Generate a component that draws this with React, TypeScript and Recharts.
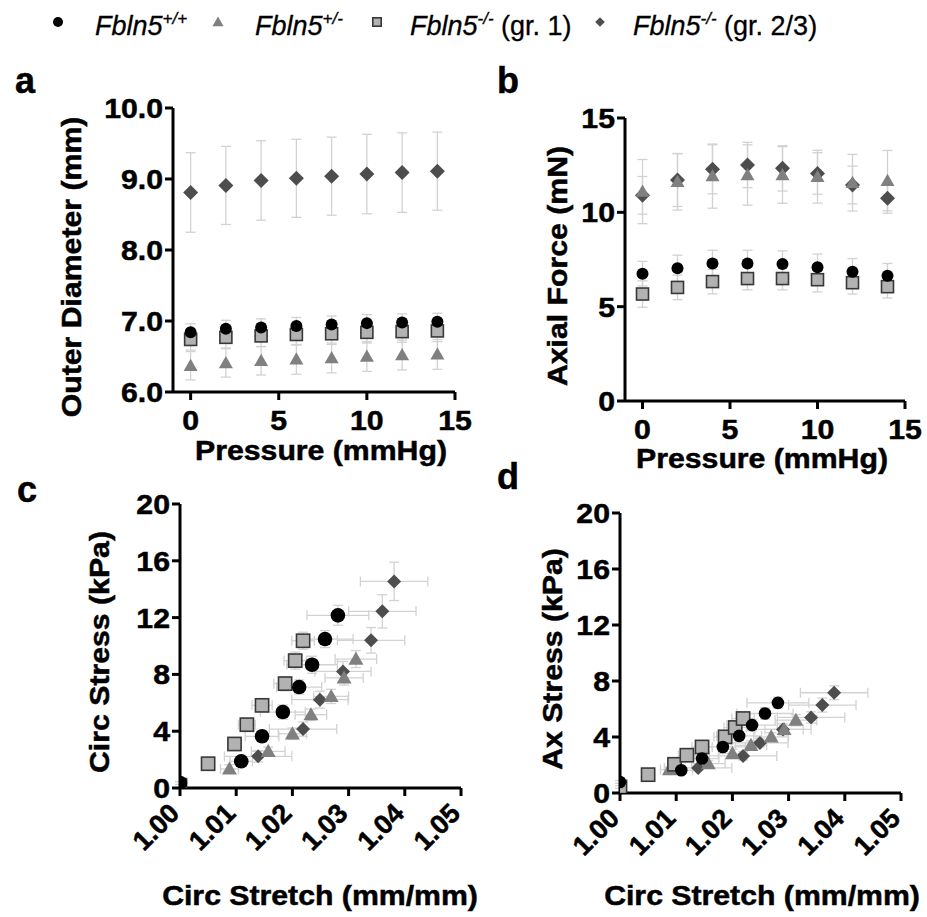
import React from 'react';
import { ScatterChart, Scatter, XAxis, YAxis, ErrorBar } from 'recharts';

// ---------------- data ----------------
const PRESSURE = [0, 2, 4, 6, 8, 10, 12, 14];
const PRESSURE_TICKS = [0, 5, 10, 15];
const OD_TICKS = [6, 7, 8, 9, 10];
const AF_TICKS = [0, 5, 10, 15];
const STRETCH_TICKS = [1.0, 1.01, 1.02, 1.03, 1.04, 1.05];
const STRESS_TICKS = [0, 4, 8, 12, 16, 20];

// a: outer diameter (mm) vs pressure
const OD_WT = [6.84, 6.89, 6.91, 6.93, 6.95, 6.97, 6.98, 6.99];
const OD_WT_SD = [0.12, 0.12, 0.12, 0.12, 0.12, 0.12, 0.12, 0.12];
const OD_HET = [6.37, 6.41, 6.44, 6.46, 6.48, 6.5, 6.52, 6.53];
const OD_HET_SD = [0.2, 0.2, 0.2, 0.21, 0.21, 0.21, 0.21, 0.21];
const OD_KO1 = [6.74, 6.77, 6.79, 6.81, 6.82, 6.84, 6.85, 6.86];
const OD_KO1_SD = [0.15, 0.15, 0.15, 0.15, 0.15, 0.15, 0.15, 0.15];
const OD_KO23 = [8.81, 8.91, 8.98, 9.01, 9.04, 9.07, 9.09, 9.11];
const OD_KO23_SD = [0.56, 0.55, 0.56, 0.55, 0.55, 0.56, 0.56, 0.55];

// b: axial force (mN) vs pressure
const AF_WT = [6.75, 7.03, 7.29, 7.29, 7.26, 7.09, 6.85, 6.64];
const AF_WT_SD = [0.65, 0.7, 0.7, 0.7, 0.7, 0.7, 0.7, 0.65];
const AF_HET = [11.1, 11.62, 11.92, 11.98, 11.98, 11.89, 11.57, 11.68];
const AF_HET_SD = [1.7, 1.5, 1.7, 1.6, 1.5, 1.4, 1.5, 1.6];
const AF_KO1 = [5.67, 6.02, 6.33, 6.49, 6.49, 6.43, 6.27, 6.06];
const AF_KO1_SD = [0.7, 0.65, 0.65, 0.6, 0.6, 0.65, 0.6, 0.6];
const AF_KO23 = [10.9, 11.71, 12.28, 12.51, 12.33, 12.06, 11.45, 10.75];
const AF_KO23_SD = [1.0, 1.4, 1.3, 1.2, 1.2, 1.1, 1.0, 0.8];

// c/d: circumferential stretch (mm/mm), shared by both panels
const STRETCH_WT = [1.0, 1.0109, 1.0146, 1.0183, 1.0212, 1.0235, 1.0258, 1.0281];
const STRETCH_WT_SD = [0, 0.002, 0.003, 0.004, 0.004, 0.0045, 0.005, 0.0055];
const STRETCH_HET = [1.0088, 1.0157, 1.02, 1.0233, 1.0269, 1.0292, 1.0313];
const STRETCH_HET_SD = [0.0016, 0.003, 0.0025, 0.0028, 0.0031, 0.0034, 0.0037];
const STRETCH_KO1 = [1.0, 1.005, 1.0097, 1.0119, 1.0146, 1.0187, 1.0205, 1.0219];
const STRETCH_KO1_SD = [0, 0.001, 0.0012, 0.0015, 0.0018, 0.002, 0.002, 0.002];
const STRETCH_KO23 = [1.0139, 1.0219, 1.0249, 1.029, 1.034, 1.036, 1.0381];
const STRETCH_KO23_SD = [0.006, 0.006, 0.005, 0.005, 0.006, 0.006, 0.006];

// c: circumferential stress (kPa)
const CSTRESS_WT = [0.35, 1.88, 3.64, 5.35, 7.11, 8.68, 10.49, 12.16];
const CSTRESS_WT_SD = [0.1, 0.3, 0.4, 0.5, 0.5, 0.6, 0.6, 0.7];
const CSTRESS_HET = [1.34, 2.58, 3.82, 5.16, 6.45, 7.75, 9.08];
const CSTRESS_HET_SD = [0.3, 0.3, 0.4, 0.4, 0.5, 0.5, 0.6];
const CSTRESS_KO1 = [0.2, 1.71, 3.1, 4.46, 5.82, 7.35, 8.97, 10.37];
const CSTRESS_KO1_SD = [0, 0.2, 0.3, 0.4, 0.4, 0.5, 0.6, 0.6];
const CSTRESS_KO23 = [2.23, 4.15, 6.22, 8.21, 10.4, 12.44, 14.55];
const CSTRESS_KO23_SD = [0.4, 0.5, 0.6, 0.7, 0.9, 1.17, 1.35];

// d: axial stress (kPa)
const ASTRESS_WT = [0.79, 1.62, 2.46, 3.29, 4.08, 4.85, 5.68, 6.44];
const ASTRESS_WT_SD = [0.1, 0.2, 0.3, 0.3, 0.3, 0.4, 0.4, 0.4];
const ASTRESS_HET = [1.67, 2.1, 2.82, 3.41, 4.01, 4.54, 5.2];
const ASTRESS_HET_SD = [0.2, 0.2, 0.3, 0.3, 0.3, 0.3, 0.4];
const ASTRESS_KO1 = [0.43, 1.31, 2.05, 2.7, 3.29, 4.01, 4.68, 5.32];
const ASTRESS_KO1_SD = [0.1, 0.2, 0.2, 0.3, 0.3, 0.3, 0.4, 0.4];
const ASTRESS_KO23 = [1.79, 2.65, 3.58, 4.54, 5.4, 6.28, 7.16];
const ASTRESS_KO23_SD = [0.2, 0.3, 0.3, 0.4, 0.4, 0.5, 0.5];

// ---------------- styling ----------------
const FONT = '"Liberation Sans", Arial, Helvetica, sans-serif';
const SX = 1.08; // horizontal stretch of the bold axis text
const AXFS = 28; // axis text font size
const HEAVY = { stroke: '#000', strokeWidth: 0.5 };
const ERR = '#d2d2d2';

type ShapeKind = 'circle' | 'triangle' | 'square' | 'diamond';

interface SeriesMeta {
  key: string;
  sup: string;
  suffix: string;
  shape: ShapeKind;
  fill: string;
  stroke: string;
}

const SERIES: Record<string, SeriesMeta> = {
  wt: { key: 'wt', sup: '+/+', suffix: '', shape: 'circle', fill: '#000000', stroke: 'none' },
  het: { key: 'het', sup: '+/-', suffix: '', shape: 'triangle', fill: '#808080', stroke: 'none' },
  ko1: { key: 'ko1', sup: '-/-', suffix: ' (gr. 1)', shape: 'square', fill: '#b2b2b2', stroke: '#383838' },
  ko23: { key: 'ko23', sup: '-/-', suffix: ' (gr. 2/3)', shape: 'diamond', fill: '#4d4d4d', stroke: 'none' },
};
const LEGEND_ORDER = ['wt', 'het', 'ko1', 'ko23'];
const DRAW_ORDER = ['ko23', 'het', 'ko1', 'wt'];

type Sizes = Record<ShapeKind, number>;

function Marker({ shape, cx, cy, s, fill, stroke }: { shape: ShapeKind; cx: number; cy: number; s: number; fill: string; stroke: string }) {
  if (cx == null || cy == null || isNaN(cx) || isNaN(cy)) return <g />;
  switch (shape) {
    case 'circle':
      return <circle cx={cx} cy={cy} r={s} fill={fill} />;
    case 'triangle':
      return (
        <polygon
          points={`${cx},${cy - s * 1.0} ${cx + s},${cy + s * 0.75} ${cx - s},${cy + s * 0.75}`}
          fill={fill}
        />
      );
    case 'square':
      return <rect x={cx - s} y={cy - s} width={2 * s} height={2 * s} fill={fill} stroke={stroke} strokeWidth={1.6} />;
    case 'diamond':
    default:
      return <polygon points={`${cx},${cy - s} ${cx + s},${cy} ${cx},${cy + s} ${cx - s},${cy}`} fill={fill} />;
  }
}

function zip(xs: number[], ys: number[], eys: number[], exs?: number[]) {
  return ys.map((y, i) => ({ x: xs[i], y, ey: eys[i], ex: exs ? exs[i] : 0 }));
}

function AxisTitle({ px, py, text, vertical }: any) {
  return (
    <text
      transform={`translate(${px},${py}) rotate(${vertical ? -90 : 0}) scale(${SX},1)`}
      textAnchor="middle"
      dy="0.36em"
      fontFamily={FONT}
      fontWeight="bold"
      fontSize={AXFS}
      fill="#000"
      {...HEAVY}
    >
      {text}
    </text>
  );
}

function makeTick(mode: 'x' | 'y' | 'xr', fmt: (v: number) => string) {
  return (p: any) => {
    const { x, y, payload } = p;
    const label = fmt(payload.value);
    if (mode === 'x') {
      return (
        <text transform={`translate(${x},${y + 28}) scale(${SX},1)`} textAnchor="middle" fontFamily={FONT} fontWeight="bold" fontSize={AXFS} fill="#000" {...HEAVY}>
          {label}
        </text>
      );
    }
    if (mode === 'y') {
      return (
        <text transform={`translate(${x},${y}) scale(${SX},1)`} textAnchor="end" dy="0.36em" fontFamily={FONT} fontWeight="bold" fontSize={AXFS} fill="#000" {...HEAVY}>
          {label}
        </text>
      );
    }
    return (
      <text transform={`translate(${x - 6},${y + 10}) rotate(-45)`} textAnchor="end" dy="0.36em" fontFamily={FONT} fontWeight="bold" fontSize={27} fill="#000" {...HEAVY}>
        {label}
      </text>
    );
  };
}

interface PanelSeries {
  meta: SeriesMeta;
  data: { x: number; y: number; ey: number; ex: number }[];
}

interface PanelProps {
  left: number;
  top: number;
  width: number;
  height: number;
  margin: { top: number; right: number; bottom: number; left: number };
  yWidth: number;
  xHeight: number;
  xDomain: [number, number];
  xTicks: number[];
  yDomain: [number, number];
  yTicks: number[];
  xFmt: (v: number) => string;
  yFmt: (v: number) => string;
  rotateX: boolean;
  xTitle: string;
  xTitlePos: [number, number];
  yTitle: string;
  yTitlePos: [number, number];
  series: Record<string, PanelSeries>;
  sizes: Sizes;
  xErr: boolean;
}

const AXIS_LINE = { stroke: '#000', strokeWidth: 3 };

function Panel(props: PanelProps) {
  const {
    left, top, width, height, margin, yWidth, xHeight, xDomain, xTicks, yDomain, yTicks,
    xFmt, yFmt, rotateX, xTitle, xTitlePos, yTitle, yTitlePos, series, sizes, xErr,
  } = props;
  return (
    <div style={{ position: 'absolute', left, top, width, height }}>
      <ScatterChart width={width} height={height} margin={margin} style={{ overflow: 'visible' }}>
        <XAxis
          type="number"
          dataKey="x"
          domain={xDomain}
          ticks={xTicks}
          interval={0}
          allowDataOverflow
          height={xHeight}
          axisLine={AXIS_LINE}
          tickLine={AXIS_LINE}
          tickSize={8}
          tick={makeTick(rotateX ? 'xr' : 'x', xFmt)}
          label={<AxisTitle px={xTitlePos[0]} py={xTitlePos[1]} text={xTitle} />}
        />
        <YAxis
          type="number"
          dataKey="y"
          domain={yDomain}
          ticks={yTicks}
          interval={0}
          allowDataOverflow
          width={yWidth}
          axisLine={AXIS_LINE}
          tickLine={AXIS_LINE}
          tickSize={8}
          tick={makeTick('y', yFmt)}
          label={<AxisTitle px={yTitlePos[0]} py={yTitlePos[1]} text={yTitle} vertical />}
        />
        {DRAW_ORDER.map((k) => {
          const s = series[k];
          const m = s.meta;
          return (
            <Scatter
              key={k}
              name={k}
              data={s.data}
              isAnimationActive={false}
              shape={(p: any) => <Marker shape={m.shape} cx={p.cx} cy={p.cy} s={sizes[m.shape]} fill={m.fill} stroke={m.stroke} />}
            >
              <ErrorBar dataKey="ey" direction="y" width={5} stroke={ERR} strokeWidth={1.3} />
              {xErr ? <ErrorBar dataKey="ex" direction="x" width={5} stroke={ERR} strokeWidth={1.3} /> : null}
            </Scatter>
          );
        })}
      </ScatterChart>
    </div>
  );
}

function Legend() {
  const markerX = [58, 218, 377, 600];
  const textX = [95, 255, 410, 633];
  const legendSizes: Sizes = { circle: 5, triangle: 5.5, square: 4.2, diamond: 4.8 };
  return (
    <svg width={927} height={60} style={{ position: 'absolute', left: 0, top: 0 }}>
      {LEGEND_ORDER.map((k, i) => {
        const m = SERIES[k];
        return (
          <g key={k}>
            <Marker shape={m.shape} cx={markerX[i]} cy={22} s={legendSizes[m.shape]} fill={m.fill} stroke={m.stroke} />
            <text x={textX[i]} y={35} fontFamily={FONT} fontSize={27} fill="#000" stroke="#000" strokeWidth={0.3}>
              <tspan fontStyle="italic">Fbln5</tspan>
              <tspan fontStyle="italic" fontSize={17} dy={-11}>{m.sup}</tspan>
              {m.suffix ? <tspan dy={11}>{m.suffix}</tspan> : null}
            </text>
          </g>
        );
      })}
    </svg>
  );
}

function PanelLetters() {
  const letters = [
    { t: 'a', x: 15, y: 93 },
    { t: 'b', x: 497, y: 93 },
    { t: 'c', x: 17, y: 502 },
    { t: 'd', x: 497, y: 489 },
  ];
  return (
    <svg width={927} height={917} style={{ position: 'absolute', left: 0, top: 0, pointerEvents: 'none' }}>
      {letters.map((l) => (
        <text key={l.t} x={l.x} y={l.y} fontFamily={FONT} fontWeight="bold" fontSize={36} fill="#000" {...HEAVY}>
          {l.t}
        </text>
      ))}
    </svg>
  );
}

const SIZES_AB: Sizes = { circle: 6, triangle: 7, square: 6, diamond: 7.5 };
const SIZES_C: Sizes = { circle: 7.3, triangle: 7.5, square: 6.6, diamond: 7 };
const SIZES_D: Sizes = { circle: 6.3, triangle: 7.5, square: 6.6, diamond: 7 };

export default function App() {
  const fmtInt = (v: number) => String(v);
  const fmt1 = (v: number) => v.toFixed(1);
  const fmt2 = (v: number) => v.toFixed(2);

  const seriesA: Record<string, PanelSeries> = {
    wt: { meta: SERIES.wt, data: zip(PRESSURE, OD_WT, OD_WT_SD) },
    het: { meta: SERIES.het, data: zip(PRESSURE, OD_HET, OD_HET_SD) },
    ko1: { meta: SERIES.ko1, data: zip(PRESSURE, OD_KO1, OD_KO1_SD) },
    ko23: { meta: SERIES.ko23, data: zip(PRESSURE, OD_KO23, OD_KO23_SD) },
  };
  const seriesB: Record<string, PanelSeries> = {
    wt: { meta: SERIES.wt, data: zip(PRESSURE, AF_WT, AF_WT_SD) },
    het: { meta: SERIES.het, data: zip(PRESSURE, AF_HET, AF_HET_SD) },
    ko1: { meta: SERIES.ko1, data: zip(PRESSURE, AF_KO1, AF_KO1_SD) },
    ko23: { meta: SERIES.ko23, data: zip(PRESSURE, AF_KO23, AF_KO23_SD) },
  };
  const seriesC: Record<string, PanelSeries> = {
    wt: { meta: SERIES.wt, data: zip(STRETCH_WT, CSTRESS_WT, CSTRESS_WT_SD, STRETCH_WT_SD) },
    het: { meta: SERIES.het, data: zip(STRETCH_HET, CSTRESS_HET, CSTRESS_HET_SD, STRETCH_HET_SD) },
    ko1: { meta: SERIES.ko1, data: zip(STRETCH_KO1, CSTRESS_KO1, CSTRESS_KO1_SD, STRETCH_KO1_SD) },
    ko23: { meta: SERIES.ko23, data: zip(STRETCH_KO23, CSTRESS_KO23, CSTRESS_KO23_SD, STRETCH_KO23_SD) },
  };
  const seriesD: Record<string, PanelSeries> = {
    wt: { meta: SERIES.wt, data: zip(STRETCH_WT, ASTRESS_WT, ASTRESS_WT_SD, STRETCH_WT_SD) },
    het: { meta: SERIES.het, data: zip(STRETCH_HET, ASTRESS_HET, ASTRESS_HET_SD, STRETCH_HET_SD) },
    ko1: { meta: SERIES.ko1, data: zip(STRETCH_KO1, ASTRESS_KO1, ASTRESS_KO1_SD, STRETCH_KO1_SD) },
    ko23: { meta: SERIES.ko23, data: zip(STRETCH_KO23, ASTRESS_KO23, ASTRESS_KO23_SD, STRETCH_KO23_SD) },
  };

  return (
    <div style={{ position: 'absolute', left: 0, top: 0, width: 927, height: 917, background: '#fff', overflow: 'hidden' }}>
      <Legend />
      <Panel
        left={0} top={60} width={480} height={430}
        margin={{ top: 48, right: 25, bottom: 38, left: 73 }}
        yWidth={100} xHeight={60}
        xDomain={[-1, 15]} xTicks={PRESSURE_TICKS}
        yDomain={[6, 10]} yTicks={OD_TICKS}
        xFmt={fmtInt} yFmt={fmt1} rotateX={false}
        xTitle="Pressure (mmHg)" xTitlePos={[321, 390]}
        yTitle="Outer Diameter (mm)" yTitlePos={[71, 207]}
        series={seriesA} sizes={SIZES_AB} xErr={false}
      />
      <Panel
        left={470} top={60} width={457} height={430}
        margin={{ top: 58, right: 22, bottom: 29, left: 55 }}
        yWidth={100} xHeight={60}
        xDomain={[-1, 15]} xTicks={PRESSURE_TICKS}
        yDomain={[0, 15]} yTicks={AF_TICKS}
        xFmt={fmtInt} yFmt={fmtInt} rotateX={false}
        xTitle="Pressure (mmHg)" xTitlePos={[292, 398]}
        yTitle="Axial Force (mN)" yTitlePos={[87, 206]}
        series={seriesB} sizes={SIZES_AB} xErr={false}
      />
      <Panel
        left={0} top={480} width={480} height={437}
        margin={{ top: 24, right: 19, bottom: 29, left: 80 }}
        yWidth={100} xHeight={100}
        xDomain={[1.0, 1.05]} xTicks={STRETCH_TICKS}
        yDomain={[0, 20]} yTicks={STRESS_TICKS}
        xFmt={fmt2} yFmt={fmtInt} rotateX={true}
        xTitle="Circ Stretch (mm/mm)" xTitlePos={[320, 415]}
        yTitle="Circ Stress (kPa)" yTitlePos={[99, 172]}
        series={seriesC} sizes={SIZES_C} xErr={true}
      />
      <Panel
        left={470} top={480} width={457} height={437}
        margin={{ top: 33, right: 26, bottom: 24, left: 50 }}
        yWidth={100} xHeight={100}
        xDomain={[1.0, 1.05]} xTicks={STRETCH_TICKS}
        yDomain={[0, 20]} yTicks={STRESS_TICKS}
        xFmt={fmt2} yFmt={fmtInt} rotateX={true}
        xTitle="Circ Stretch (mm/mm)" xTitlePos={[292, 415]}
        yTitle="Ax Stress (kPa)" yTitlePos={[82, 179]}
        series={seriesD} sizes={SIZES_D} xErr={true}
      />
      <PanelLetters />
    </div>
  );
}
